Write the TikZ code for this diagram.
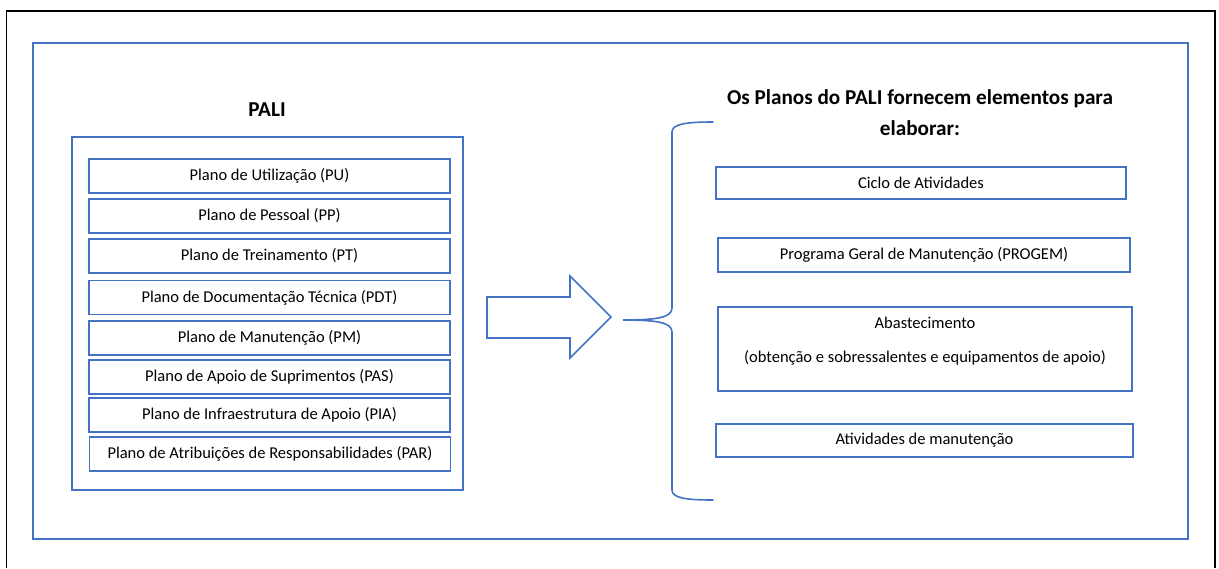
\documentclass[tikz,border=0pt]{standalone}
\usepackage{fontspec}
\setmainfont{Carlito}
\definecolor{officeblue}{HTML}{4472C4}
\begin{document}
\begin{tikzpicture}[x=1pt,y=-1pt,
  frame/.style={draw=officeblue,line width=2.2pt},
  panel/.style={draw=officeblue,line width=1.6pt},
  planbox/.style={draw=officeblue,line width=1.6pt,rectangle,inner sep=0pt,
    minimum height=34pt,font=\fontsize{16.5}{19}\selectfont},
  leftbox/.style={planbox,minimum width=361pt},
  heading/.style={font=\fontsize{21.2}{25}\bfseries\selectfont,inner sep=0pt},
  txt/.style={font=\fontsize{16.5}{19}\selectfont,inner sep=0pt}]
\useasboundingbox (0,0) rectangle (1219,568);
% page border (open at the bottom)
\draw[black,line width=1.8pt] (6.5,568) -- (6.5,11) -- (1215,11) -- (1215,568);
% outer frame and PALI panel
\draw[frame] (33,43) rectangle (1188,539);
\draw[panel] (72,137) rectangle (463,490);
\node[heading] (pali) at (267,110) {PALI};
% plans of the PALI
\node[leftbox] (pu)  at (269.5,176)   {Plano de Utilização (PU)};
\node[leftbox] (pp)  at (269.5,216)   {Plano de Pessoal (PP)};
\node[leftbox] (pt)  at (269.5,256)   {Plano de Treinamento (PT)};
\node[leftbox] (pdt) at (269.5,297.5) {Plano de Documentação Técnica (PDT)};
\node[leftbox] (pm)  at (269.5,338)   {Plano de Manutenção (PM)};
\node[leftbox] (pas) at (269.5,377)   {Plano de Apoio de Suprimentos (PAS)};
\node[leftbox] (pia) at (269.5,415)   {Plano de Infraestrutura de Apoio (PIA)};
\node[leftbox] (par) at (270,454)     {Plano de Atribuições de Responsabilidades (PAR)};
% block arrow
\draw[panel,line join=miter] (487,297) -- (570,297) -- (570,276) -- (611,317)
  -- (570,358) -- (570,338) -- (487,338) -- cycle;
% curly brace
\draw[panel,line cap=round]
  (713,122) .. controls (686,122) and (672,124) .. (672,132)
  -- (672,308) .. controls (672,318) and (655,320) .. (623,320)
  .. controls (655,320) and (672,322) .. (672,332)
  -- (672,490) .. controls (672,498) and (686,500) .. (713,500);
% right heading
\node[heading] (t1) at (920,99)  {Os Planos do PALI fornecem elementos para};
\node[heading] (t2) at (920,128) {elaborar:};
% elements produced
\node[planbox,minimum width=410pt,minimum height=32pt] (ciclo) at (921,183) {Ciclo de Atividades};
\node[planbox,minimum width=412pt] (progem) at (924,255) {Programa Geral de Manutenção (PROGEM)};
\node[planbox,minimum width=414pt,minimum height=84pt] (abast) at (925,349) {};
\node[txt] (abast1) at (925,323) {Abastecimento};
\node[txt] (abast2) at (925,358) {(obtenção e sobressalentes e equipamentos de apoio)};
\node[planbox,minimum width=417pt,minimum height=33pt] (ativ) at (924.5,440.5) {Atividades de manutenção};
\end{tikzpicture}
\end{document}
